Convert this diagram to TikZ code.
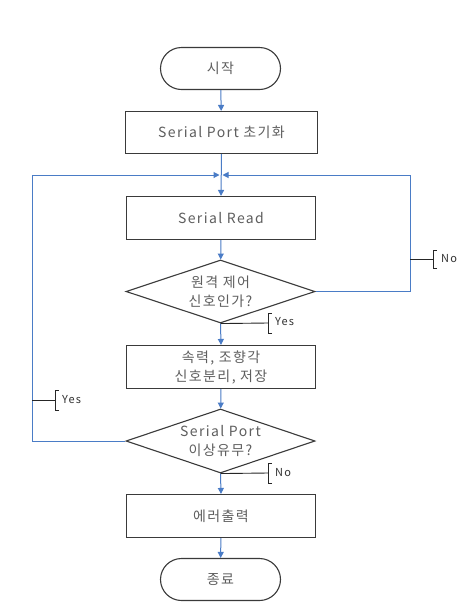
\documentclass[tikz,border=0pt]{standalone}
\usepackage{fontspec}
\setmainfont{Noto Sans CJK KR}[LetterSpace=10]
\usetikzlibrary{arrows.meta,shapes.geometric}
\definecolor{flow}{HTML}{4A7CC6}
\definecolor{txt}{HTML}{5E5E5E}
\definecolor{edge}{HTML}{3A3A3A}
\begin{document}
\begin{tikzpicture}[x=1pt,y=-1pt,
  base/.style={draw=edge,line width=1.1pt,text=txt,font=\fontsize{14}{19}\selectfont,align=center,inner sep=0pt},
  term/.style={base,rectangle,rounded corners=21pt,minimum width=120pt,minimum height=42pt},
  proc/.style={base,rectangle,minimum width=189pt,minimum height=43pt},
  dec/.style={base,diamond,aspect=3,minimum width=189pt,minimum height=63pt},
  flowline/.style={draw=flow,line width=1pt},
  flowarrow/.style={flowline,-{Triangle[length=6pt,width=6pt]}},
  stub/.style={draw=black!85,line width=0.9pt},
  lbl/.style={font=\fontsize{11}{13}\selectfont,text=black!80,anchor=west,inner sep=0pt}]
\useasboundingbox (0,0) rectangle (460,606);
\fill[white] (0,0) rectangle (460,606);

\node[term] (start) at (220.5,68.5) {시작};
\node[proc,minimum width=192pt,minimum height=42pt] (init) at (221.5,132.5) {Serial Port 초기화};
\coordinate (merge) at (221,175);
\node[proc] (read) at (221,218) {Serial Read};
\node[dec] (d1) at (220.5,291.5) {원격 제어\\신호인가?};
\node[proc] (sep) at (221,367) {속력, 조향각\\신호분리, 저장};
\node[dec,minimum height=64pt] (d2) at (220.5,441) {Serial Port\\이상유무?};
\node[proc] (err) at (221,516) {에러출력};
\node[term] (end) at (220.5,579.5) {종료};

\coordinate (rc) at (410,175);
\coordinate (lc) at (32,175);

% main flow
\draw[flowarrow] (start) -- (init);
\draw[flowarrow] (init.south) -- (read.north);
\draw[flowarrow] (read) -- (d1);
\draw[flowarrow] (d1.south) -- (sep.north);
\draw[flowarrow] (sep) -- (d2);
\draw[flowarrow] (d2.south) -- (err.north);
\draw[flowarrow] (err) -- (end);
% loops
\draw[flowarrow,shorten >=1.5pt] (d1.east) -- (d1.east -| rc) -- (rc) -- (merge);
\draw[flowarrow,shorten >=1.5pt] (d2.west) -- (d2.west -| lc) -- (lc) -- (merge);

% labels
\coordinate (n1a) at (410,259);
\coordinate (n1b) at (433,259);
\draw[stub] (n1a) -- (n1b);
\draw[stub] ([xshift=4pt,yshift=-9pt]n1b) -- ([yshift=-9pt]n1b) -- ([yshift=9pt]n1b) -- ([xshift=4pt,yshift=9pt]n1b);
\node[lbl] (no1) at ([xshift=8pt]n1b) {No};

\coordinate (y1b) at (268,323);
\draw[stub] (d1.south) -- (y1b);
\draw[stub] ([xshift=4pt,yshift=-10pt]y1b) -- ([yshift=-10pt]y1b) -- ([yshift=10pt]y1b) -- ([xshift=4pt,yshift=10pt]y1b);
\node[lbl] (yes1) at ([xshift=7pt,yshift=1pt]y1b) {Yes};

\coordinate (y2a) at (32,400);
\coordinate (y2b) at (55,400);
\draw[stub] (y2a) -- (y2b);
\draw[stub] ([xshift=4pt,yshift=-10pt]y2b) -- ([yshift=-10pt]y2b) -- ([yshift=10pt]y2b) -- ([xshift=4pt,yshift=10pt]y2b);
\node[lbl] (yes2) at ([xshift=7pt]y2b) {Yes};

\coordinate (n2b) at (268,473);
\draw[stub] (d2.south) -- (n2b);
\draw[stub] ([xshift=4pt,yshift=-10pt]n2b) -- ([yshift=-10pt]n2b) -- ([yshift=10pt]n2b) -- ([xshift=4pt,yshift=10pt]n2b);
\node[lbl] (no2) at ([xshift=7pt]n2b) {No};
\end{tikzpicture}
\end{document}
